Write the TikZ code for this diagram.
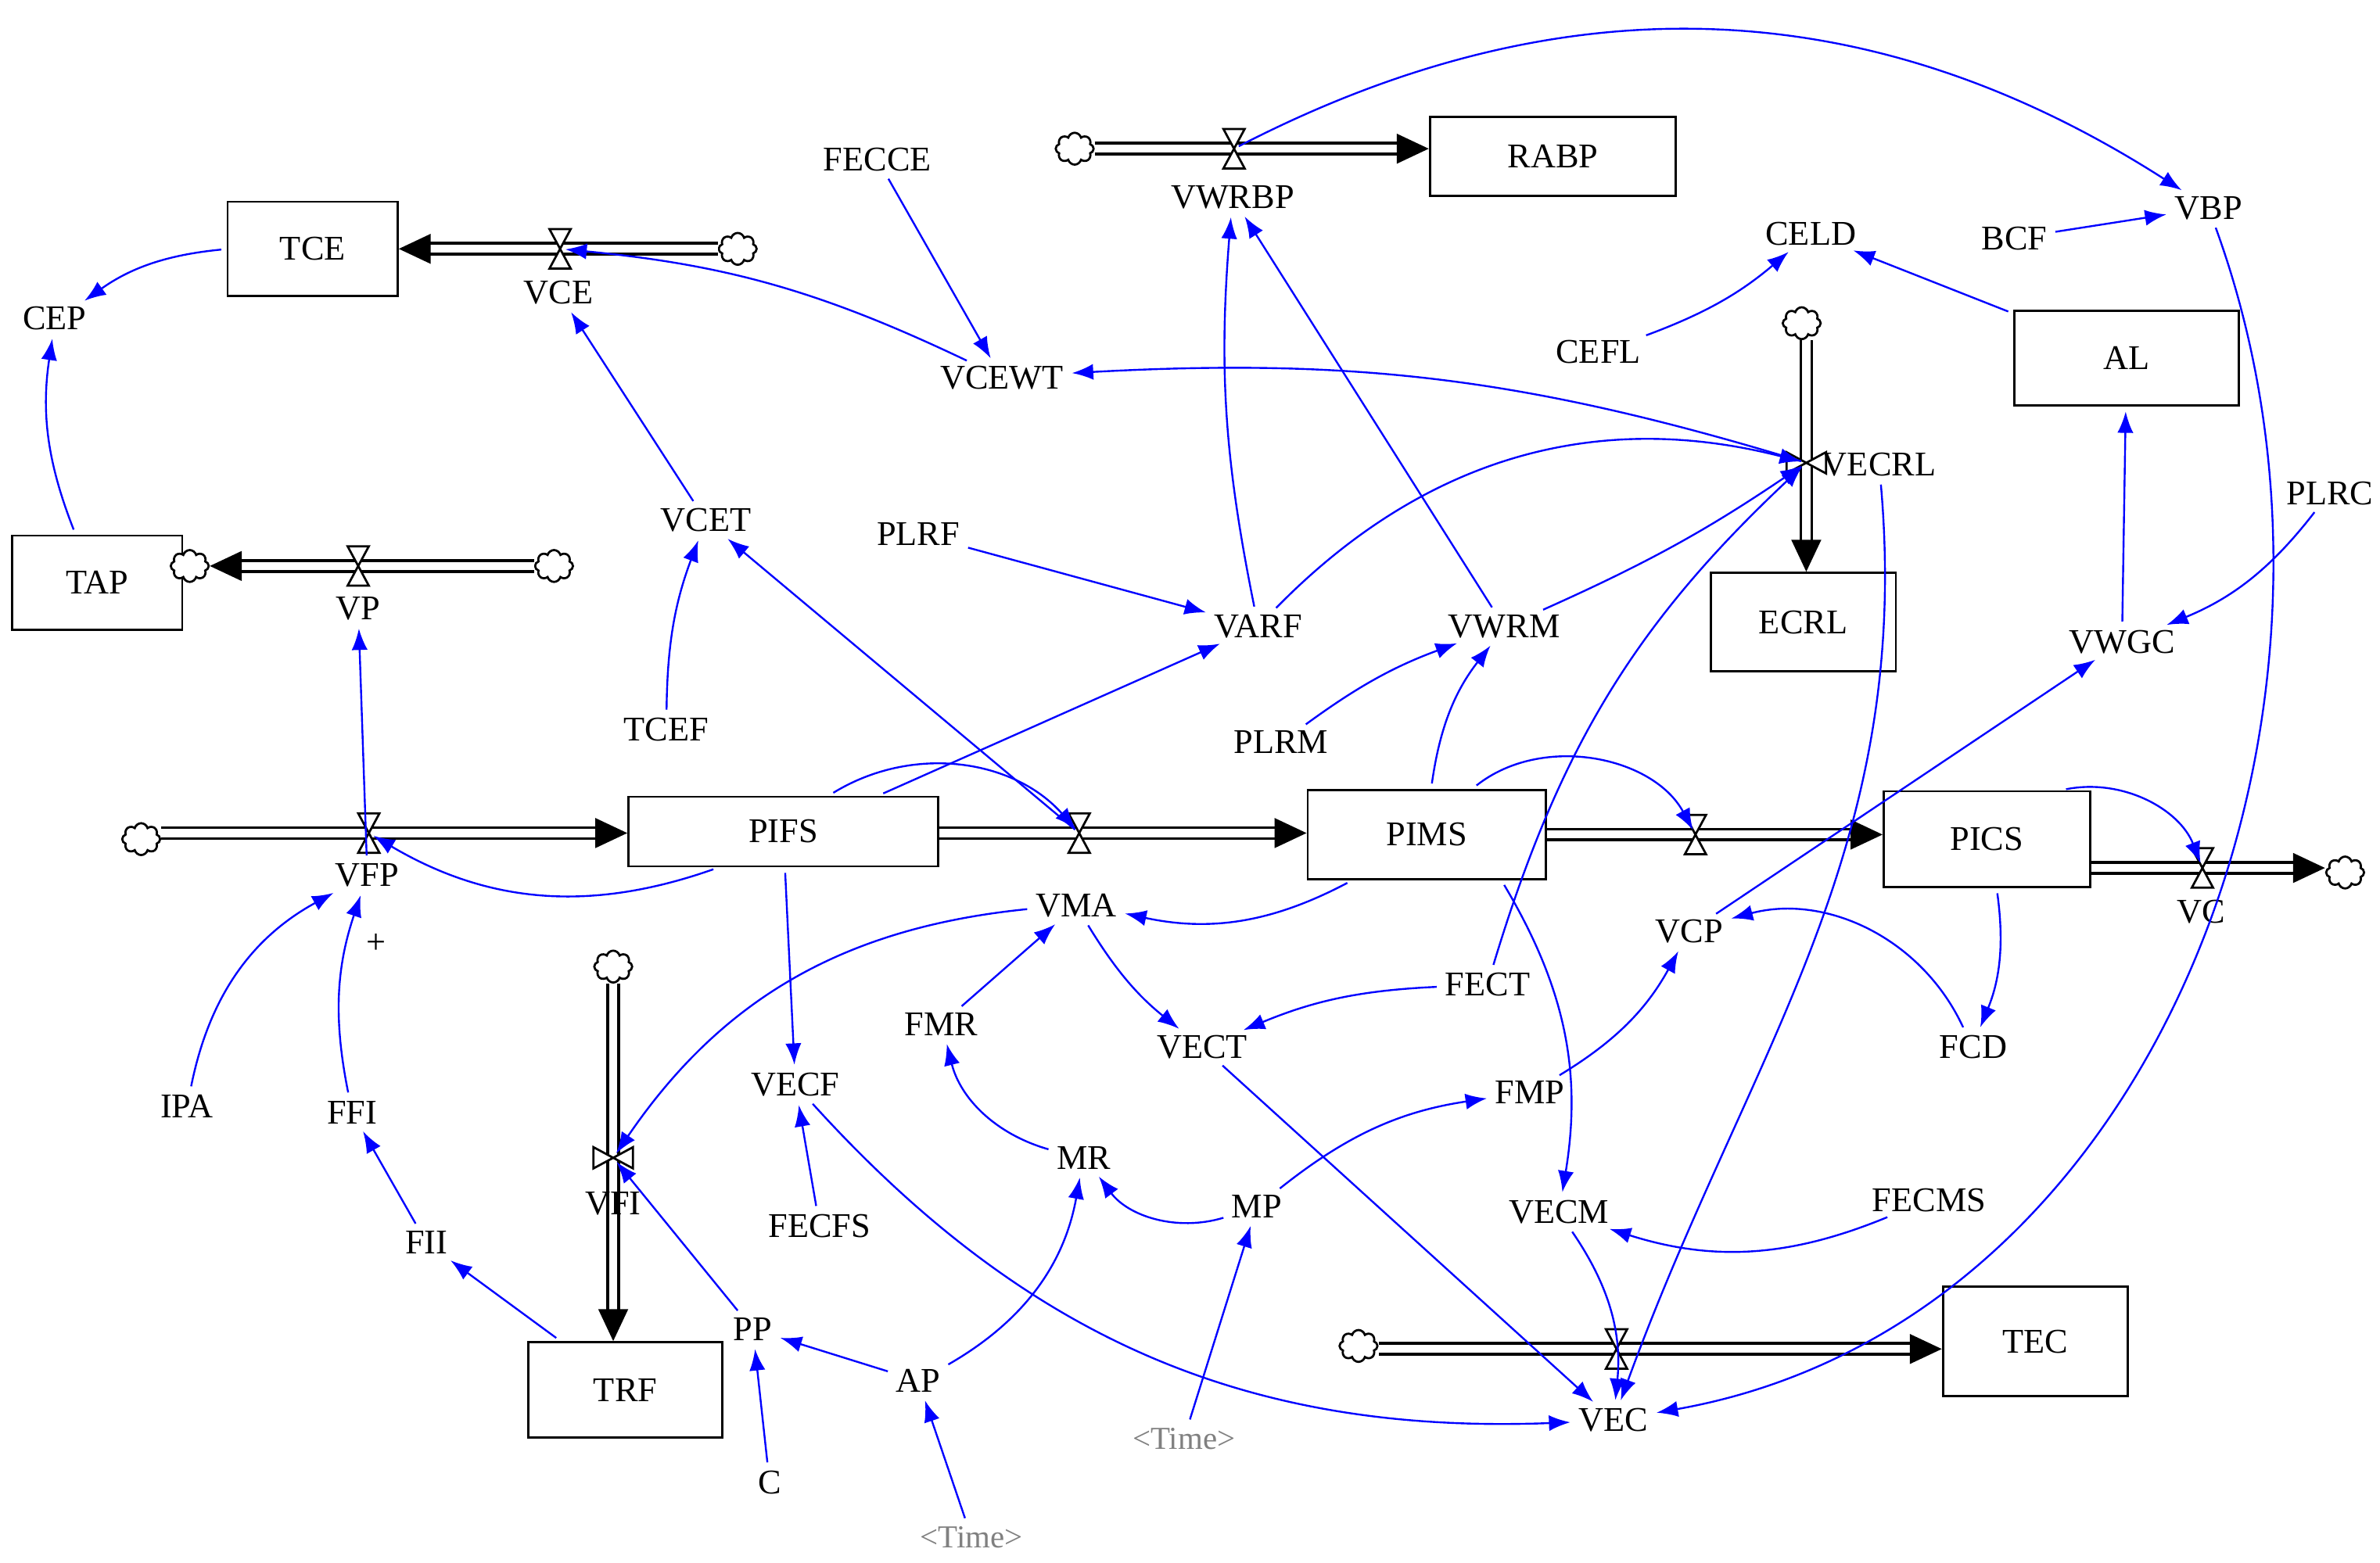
\documentclass[tikz,border=0pt]{standalone}
\usepackage{fontspec}
\setmainfont{Liberation Serif}
\usetikzlibrary{arrows.meta,shapes.symbols,positioning}

\newcommand{\valveh}[1]{\draw[thick,fill=white] (#1) ++(-7,-13) -- ++(14,0) -- (#1) -- cycle (#1) ++(-7,13) -- ++(14,0) -- (#1) -- cycle;}
\newcommand{\valvev}[1]{\draw[thick,fill=white] (#1) ++(-13,-7) -- ++(0,14) -- (#1) -- cycle (#1) ++(13,-7) -- ++(0,14) -- (#1) -- cycle;}

\begin{document}
\begin{tikzpicture}[x=0.02cm,y=-0.02cm,
every node/.style={font=\fontsize{13}{15}\selectfont},
stock/.style={draw,thick,fill=white,inner sep=0pt},
aux/.style={inner sep=1pt},
tm/.style={inner sep=1pt,text=gray,font=\fontsize{12}{14}\selectfont},
cloudy/.style={cloud,cloud puffs=8,draw,thick,fill=white,minimum width=0.5cm,minimum height=0.42cm,inner sep=0pt},
pipe/.style={double,double distance=3pt,line width=1.1pt,-{Triangle[length=12pt,width=11pt]}},
link/.style={blue,line width=0.7pt,-{Latex[length=8pt,width=6pt]},shorten >=2pt,shorten <=2pt},
]
\useasboundingbox (0,0) rectangle (1568,1030);

% stocks
\node[stock,minimum width=2.24cm,minimum height=1.24cm] (tce) at (206,164) {TCE};
\node[stock,minimum width=2.24cm,minimum height=1.24cm] (tap) at (64,384) {TAP};
\node[stock,minimum width=3.24cm,minimum height=1.04cm] (rabp) at (1023,103) {RABP};
\node[stock,minimum width=2.96cm,minimum height=1.24cm] (al) at (1401,236) {AL};
\node[stock,minimum width=2.44cm,minimum height=1.3cm] (ecrl) at (1188,410) {ECRL};
\node[stock,minimum width=4.08cm,minimum height=0.92cm] (pifs) at (516,548) {PIFS};
\node[stock,minimum width=3.14cm,minimum height=1.18cm] (pims) at (940,550) {PIMS};
\node[stock,minimum width=2.72cm,minimum height=1.26cm] (pics) at (1309,553) {PICS};
\node[stock,minimum width=2.56cm,minimum height=1.26cm] (trf) at (412,916) {TRF};
\node[stock,minimum width=2.44cm,minimum height=1.44cm] (tec) at (1341,884) {TEC};

% valves
\coordinate (vwrbpv) at (813,98);
\coordinate (vcev) at (369,164);
\coordinate (vpv) at (236,373);
\coordinate (vfpv) at (243,549);
\coordinate (vmav) at (711,549);
\coordinate (vcpv) at (1117,550);
\coordinate (vcv) at (1451,572);
\coordinate (vfiv) at (404,763);
\coordinate (vecrlv) at (1190,305);
\coordinate (vecv) at (1065,889);

% clouds
\node[cloudy] (c1) at (708,98) {};
\node[cloudy] (c2) at (486,164) {};
\node[cloudy] (c3) at (125,373) {};
\node[cloudy] (c4) at (365,373) {};
\node[cloudy] (c5) at (93,553) {};
\node[cloudy] (c6) at (404,637) {};
\node[cloudy] (c7) at (1187,213) {};
\node[cloudy] (c8) at (1545,575) {};
\node[cloudy] (c9) at (895,887) {};

% pipes
\draw[pipe] (c1) -- (rabp.west |- c1);
\draw[pipe] (c2) -- (tce.east |- c2);
\draw[pipe] (c4) -- (c3);
\draw[pipe] (c5.east |- vfpv) -- (pifs.west |- vfpv);
\draw[pipe] (pifs.east |- vmav) -- (pims.west |- vmav);
\draw[pipe] (pims.east |- vcpv) -- (pics.west |- vcpv);
\draw[pipe] (pics.east |- vcv) -- (c8.west |- vcv);
\draw[pipe] (c6) -- (trf.north -| c6);
\draw[pipe] (c7.south -| vecrlv) -- (ecrl.north -| vecrlv);
\draw[pipe] (c9.east |- vecv) -- (tec.west |- vecv);
\valveh{vwrbpv} \valveh{vcev} \valveh{vpv} \valveh{vfpv} \valveh{vmav}
\valveh{vcpv} \valveh{vcv} \valveh{vecv}
\valvev{vfiv} \valvev{vecrlv}

% auxiliaries
\node[aux] (vwrbp) at (812,130) {VWRBP};
\node[aux] (vce) at (368,193) {VCE};
\node[aux] (vp) at (236,401) {VP};
\node[aux] (vfp) at (242,577) {VFP};
\node[aux] (vma) at (709,597) {VMA};
\node[aux] (vcp) at (1113,614) {VCP};
\node[aux] (vc) at (1450,601) {VC};
\node[aux] (vfi) at (404,793) {VFI};
\node[aux] (vecrl) at (1238,306) {VECRL};
\node[aux] (vec) at (1063,936) {VEC};
\node[aux] (fecce) at (578,105) {FECCE};
\node[aux] (cep) at (36,210) {CEP};
\node[aux] (vcewt) at (660,249) {VCEWT};
\node[aux] (celd) at (1193,154) {CELD};
\node[aux] (bcf) at (1327,157) {BCF};
\node[aux] (vbp) at (1455,137) {VBP};
\node[aux] (cefl) at (1053,232) {CEFL};
\node[aux] (plrf) at (605,352) {PLRF};
\node[aux] (varf) at (829,413) {VARF};
\node[aux] (vwrm) at (991,413) {VWRM};
\node[aux] (plrc) at (1535,325) {PLRC};
\node[aux] (vwgc) at (1398,423) {VWGC};
\node[aux] (vcet) at (465,343) {VCET};
\node[aux] (tcef) at (439,481) {TCEF};
\node[aux] (plrm) at (844,489) {PLRM};
\node[aux] (fect) at (980,649) {FECT};
\node[aux] (fcd) at (1300,690) {FCD};
\node[aux] (fmr) at (620,675) {FMR};
\node[aux] (vect) at (792,690) {VECT};
\node[aux] (vecf) at (524,715) {VECF};
\node[aux] (fmp) at (1008,720) {FMP};
\node[aux] (ipa) at (123,729) {IPA};
\node[aux] (ffi) at (232,733) {FFI};
\node[aux] (mr) at (714,763) {MR};
\node[aux] (mp) at (828,795) {MP};
\node[aux] (vecm) at (1027,799) {VECM};
\node[aux] (fecms) at (1271,791) {FECMS};
\node[aux] (fecfs) at (540,808) {FECFS};
\node[aux] (fii) at (281,819) {FII};
\node[aux] (pp) at (496,876) {PP};
\node[aux] (ap) at (605,910) {AP};
\node[aux] (c) at (507,977) {C};
\node[tm] (time1) at (780,948) {\textless Time\textgreater};
\node[tm] (time2) at (640,1013) {\textless Time\textgreater};
\node[aux] (plus) at (248,622) {+};

% links
\draw[link] (tce) to[bend right=15] (cep);
\draw[link] (tap) to[bend left=15] (cep);
\draw[link] (vcewt) to[bend right=10] (vcev);
\draw[link] (fecce) -- (vcewt);
\draw[link] (vecrlv) to[bend right=10] (vcewt);
\draw[link] (vcet) -- (vce);
\draw[link] (tcef) to[bend left=10] (vcet);
\draw[link] (plrf) -- (varf);
\draw[link] (varf) to[bend left=8] (vwrbp);
\draw[link] (vwrm) -- (vwrbp);
\draw[link] (varf) to[bend left=30] (vecrlv);
\draw[link] (vwrm) to[bend right=5] (vecrlv);
\draw[link] (pifs.north east) ++(-40,0) -- (varf);
\draw[link] (plrm) to[bend left=8] (vwrm);
\draw[link] (pims) to[bend left=15] (vwrm);
\draw[link] (vwrbpv) to[bend left=30] (vbp);
\draw[link] (bcf) -- (vbp);
\draw[link] (al) -- (celd);
\draw[link] (cefl) to[bend right=10] (celd);
\draw[link] (vbp) to[out=-70,in=10] (vec);
\draw[link] (plrc) to[bend left=15] (vwgc);
\draw[link] (vwgc) -- (al);
\draw[link] (vcp) -- (vwgc);
\draw[link] (vecrl) to[out=-85,in=70] (vec);
\draw[link] (fect) to[bend left=15] (vecrlv);
\draw[link] (pifs.south west) ++(60,0) to[bend left=25] (vfpv);
\draw[link] (vfp) -- (vp);
\draw[link] (ipa) to[bend left=25] (vfp);
\draw[link] (ffi) to[bend left=15] (vfp);
\draw[link] (fii) -- (ffi);
\draw[link] (trf.north west) ++(22,0) -- (fii);
\draw[link] (pp) -- (vfiv);
\draw[link] (c) -- (pp);
\draw[link] (ap) -- (pp);
\draw[link] (ap) to[bend right=25] (mr);
\draw[link] (time2) -- (ap);
\draw[link] (mp) to[bend left=35] (mr);
\draw[link] (mr) to[bend left=30] (fmr);
\draw[link] (fmr) -- (vma);
\draw[link] (vma) to[bend right=10] (vect);
\draw[link] (vma) to[bend right=25] (vfiv);
\draw[link] (pims) to[bend left=20] (vma);
\draw[link] (fect) to[bend right=10] (vect);
\draw[link] (vect) -- (vec);
\draw[link] (pifs) -- (vecf);
\draw[link] (fecfs) -- (vecf);
\draw[link] (vecf) to[bend right=25] (vec);
\draw[link] (mp) to[bend left=15] (fmp);
\draw[link] (time1) -- (mp);
\draw[link] (fmp) to[bend right=15] (vcp);
\draw[link] (fcd) to[bend right=40] (vcp);
\draw[link] (pics) to[bend left=15] (fcd);
\draw[link] (pims.north) ++(30,0) to[bend left=50] (vcpv);
\draw[link] (pics.north east) ++(-20,0) to[bend left=40] (vcv);
\draw[link] (pims.south east) ++(-30,0) to[bend left=20] (vecm);
\draw[link] (fecms) to[bend left=20] (vecm);
\draw[link] (vecm) to[bend left=20] (vec);
\draw[link] (pifs.north) ++(30,0) to[bend left=40] (vmav);
\draw[link] (vmav) -- (vcet);
\end{tikzpicture}
\end{document}
